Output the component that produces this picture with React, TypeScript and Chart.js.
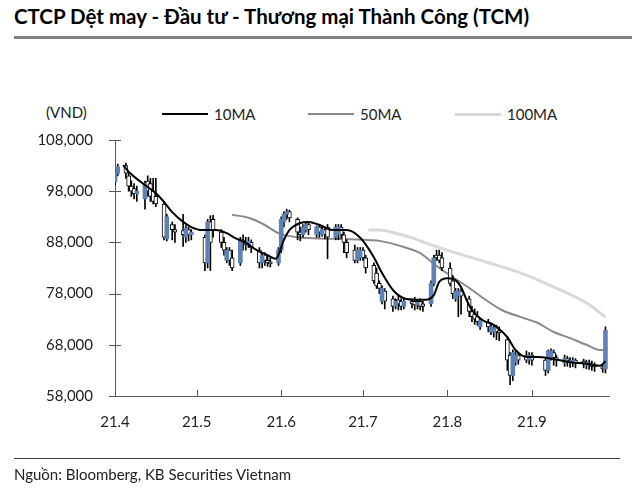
import React, { useEffect, useRef } from "react";
import { Chart, registerables } from "chart.js";

Chart.register(...registerables);

// ---- data (prices in thousand VND) ----
const monthStart: Record<number, number> = { 4: 0, 5: 30, 6: 61, 7: 91, 8: 122, 9: 153 };
const xTickDates = ["4/1", "5/1", "6/1", "7/1", "8/1", "9/1"];
const xTickLabels = ["21.4", "21.5", "21.6", "21.7", "21.8", "21.9"];
const yMin = 58;
const yMax = 108;
const yStep = 10;

const dates = [
  "4/1", "4/2", "4/5", "4/6", "4/7", "4/8", "4/9", "4/12", "4/13", "4/14", "4/15", "4/16", "4/19", "4/20", "4/22", "4/23", "4/26", "4/27", "4/28", "4/29",
  "5/4", "5/5", "5/6", "5/7", "5/10", "5/11", "5/12", "5/13", "5/14", "5/17", "5/18", "5/19", "5/20", "5/21", "5/24", "5/25", "5/26", "5/27", "5/28", "5/31",
  "6/1", "6/2", "6/3", "6/4", "6/7", "6/8", "6/9", "6/10", "6/11", "6/14", "6/15", "6/16", "6/17", "6/18", "6/21", "6/22", "6/23", "6/24", "6/25", "6/28", "6/29", "6/30",
  "7/1", "7/2", "7/5", "7/6", "7/7", "7/8", "7/9", "7/12", "7/13", "7/14", "7/15", "7/16", "7/19", "7/20", "7/21", "7/22", "7/23", "7/26", "7/27", "7/28", "7/29", "7/30",
  "8/2", "8/3", "8/4", "8/5", "8/6", "8/9", "8/10", "8/11", "8/12", "8/13", "8/16", "8/17", "8/18", "8/19", "8/20", "8/23", "8/24", "8/25", "8/26", "8/27", "8/30", "8/31",
  "9/1", "9/6", "9/7", "9/8", "9/9", "9/10", "9/13", "9/14", "9/15", "9/16", "9/17", "9/20", "9/21", "9/22", "9/23", "9/24", "9/27", "9/28",
];
const open = [
  99.8, 101.5, 103, 101, 99, 98.5, 97.5, 96.5, 100, 99.5, 98, 97, 95.5, 88.7, 91.5, 90.5, 90.3, 89, 90.5, 89.5,
  89, 84, 92, 92.5, 90, 88, 84.5, 86.5, 85, 84, 88.5, 88, 87.5, 88, 86.5, 84, 85.5, 84.5, 84, 84,
  86.5, 92, 93.5, 94, 92.5, 90, 89.5, 90.5, 91.5, 89.5, 91, 89.5, 90.5, 91, 89, 89.5, 91, 89.5, 88, 86.5, 84.5, 85,
  86.5, 85, 83.5, 82, 80, 76.5, 78.5, 77, 75.5, 76.8, 76.5, 75.5, 76.5, 76.5, 75.8, 76.5, 76, 76, 80, 85.5, 85.5, 85,
  83, 80.5, 77, 77.5, 78.5, 77, 74.5, 74, 73.5, 71.5, 72.5, 70.5, 70.5, 71.3, 70.8, 69, 66, 62, 64.5, 66, 66, 65,
  66, 65, 63, 65.5, 66.5, 65.5, 64.5, 65.3, 65, 64.5, 65, 64.8, 64, 64.5, 64.2, 64, 63.7, 63.3,
];
const high = [
  102, 103.3, 103.5, 101.5, 100, 99.5, 99, 100, 101, 100.5, 100.5, 100.5, 96, 93.5, 92, 91.5, 93.5, 91.3, 91, 90.5,
  89.5, 92.5, 93.2, 93.3, 90.5, 89, 87, 87, 86.5, 89, 89.5, 89, 89, 88.5, 87, 86, 86, 85.5, 85, 87,
  93, 94, 94.5, 94.3, 92.8, 91, 91.5, 92, 92, 91.2, 91.5, 91, 91, 91.5, 91.5, 91.5, 91.5, 90, 88.5, 87.5, 87, 87,
  87, 85.5, 84, 83, 80.5, 79.5, 79, 77.5, 77, 77.5, 77, 77, 77, 77.3, 76.8, 77, 76.5, 80.5, 85.5, 86.5, 86.5, 86,
  84, 81.5, 79, 79, 79, 77.5, 75.5, 75, 74.5, 73.2, 73, 72, 71.8, 71.8, 71.5, 69.5, 66.5, 67, 66.8, 66.5, 66.8, 66.5,
  66.5, 65.5, 67, 67.2, 67, 66, 66, 65.8, 65.5, 65.5, 65.3, 65.2, 65, 65, 64.8, 64.5, 64.2, 71.5,
];
const low = [
  99.2, 101, 100.5, 98, 97, 96.5, 96, 94.5, 97, 96, 95.5, 95, 88.5, 88.3, 88.5, 88, 87.2, 88, 88.3, 88.5,
  82.5, 83, 82.5, 89, 87, 85.5, 84, 83.5, 82.5, 83.5, 86.5, 86.5, 87, 86, 83, 83, 83.5, 83.3, 83.2, 83.5,
  86, 91, 92.5, 92, 88.5, 88.3, 89, 90, 89.5, 89, 89, 89.2, 88.7, 84.8, 88.5, 88.5, 88.8, 86, 85, 84, 84, 84.5,
  84.5, 82, 80, 79, 78, 76, 75, 74.5, 75, 74.8, 74.8, 75, 75.2, 74.8, 75, 74.8, 74.5, 75.5, 79.5, 84.5, 84, 82.5,
  79.5, 77, 76.5, 73.5, 74, 73.5, 72.5, 72, 71.8, 71, 70.5, 70, 69.5, 69, 68.8, 63, 60.2, 61, 64, 64.2, 64.5, 64.2,
  64, 62, 62.5, 65, 64, 63.8, 63.8, 63.8, 63.6, 63.7, 63.5, 63.5, 63.3, 63.2, 63, 62.8, 62.6, 62.5,
];
const close = [
  101.5, 102.8, 101.5, 99, 98, 97.5, 98, 99.5, 98, 97, 96, 95.5, 89, 93, 90.5, 90, 89.5, 90.8, 89.5, 90,
  84, 92, 88, 90.5, 88, 86.5, 86.5, 84.5, 83, 88.5, 88, 87.5, 88.2, 87, 84, 85.5, 84.5, 84, 83.8, 86.5,
  92.5, 93.5, 94, 92.8, 90, 89.5, 91, 91.5, 90.5, 91, 90, 90.5, 89.5, 89, 91, 91, 89.5, 88, 86, 84.5, 86.5, 86.5,
  85, 83, 80.5, 79.5, 79, 79, 76.5, 75.5, 76.5, 76, 75.5, 76.5, 76, 75.8, 76.3, 75.5, 75.5, 80, 85, 85, 84.5, 83,
  80, 78, 78.5, 78.5, 77.5, 74.5, 73.5, 73, 72.5, 72.8, 71.5, 71.5, 71.3, 70.5, 70.3, 65, 62, 66.5, 66, 65, 65, 66,
  65, 63, 66.8, 66.8, 65.5, 65, 65.3, 64.8, 64.5, 65, 64.5, 64.2, 64.6, 64, 63.8, 63.7, 63.3, 70.8,
];

const ma10Dates = ["4/4", "4/6", "4/11", "4/16", "4/19", "4/22", "4/26", "4/29", "5/3", "5/8", "5/12", "5/15", "5/19", "5/23", "5/27", "5/30", "6/2", "6/4", "6/8", "6/11", "6/15", "6/20", "6/25", "6/30", "7/5", "7/8", "7/12", "7/16", "7/21", "7/24", "7/27", "7/29", "8/1", "8/3", "8/6", "8/8", "8/10", "8/14", "8/18", "8/20", "8/23", "8/26", "8/30", "9/3", "9/9", "9/15", "9/21", "9/26", "9/28"];
const ma10Values = [103.1, 101.8, 99.6, 97.6, 95.9, 93.9, 92.0, 91.0, 90.4, 90.4, 89.8, 88.9, 87.9, 86.5, 85.5, 84.8, 88.5, 90.4, 91.8, 92.0, 91.4, 90.4, 90.4, 88.9, 85.1, 82.0, 78.7, 77.1, 76.8, 76.8, 77.7, 80.3, 81.0, 80.9, 79.3, 76.8, 74.8, 72.8, 71.9, 71.1, 69.5, 67.0, 65.6, 65.6, 65.2, 64.6, 64.3, 63.9, 64.8];
const ma50Dates = ["5/14", "5/20", "5/26", "5/31", "6/9", "6/21", "7/1", "7/7", "7/16", "7/22", "7/28", "8/3", "8/9", "8/15", "8/21", "8/28", "9/3", "9/9", "9/15", "9/21", "9/26", "9/28"];
const ma50Values = [93.4, 92.8, 91.4, 89.8, 88.9, 88.7, 88.5, 88.3, 87.1, 85.9, 83.4, 81.2, 79.1, 76.8, 74.8, 73.4, 72.3, 70.5, 69.3, 68.0, 67.0, 67.0];
const ma100Dates = ["7/3", "7/7", "7/13", "7/19", "7/24", "8/2", "8/15", "8/28", "9/9", "9/21", "9/28"];
const ma100Values = [90.4, 90.4, 89.8, 88.9, 87.9, 86.3, 84.2, 82.0, 79.3, 76.2, 73.4];

const upColor = "#5f82b4";
const FONT = "'Lato', 'Noto Sans', sans-serif";

function dayIndex(s: string): number {
  const [m, d] = s.split("/").map(Number);
  return monthStart[m] + d - 1;
}

const axisMarks = {
  id: "axisMarks",
  afterDraw(chart: any) {
    const { ctx, chartArea, scales } = chart;
    ctx.save();
    ctx.strokeStyle = "#595959";
    ctx.lineWidth = 1;
    scales.y.ticks.forEach((t: any) => {
      const y = Math.round(scales.y.getPixelForValue(t.value)) + 0.5;
      ctx.beginPath();
      ctx.moveTo(chartArea.left - 6, y);
      ctx.lineTo(chartArea.left + 6, y);
      ctx.stroke();
    });
    scales.x.ticks.forEach((t: any) => {
      const x = Math.round(scales.x.getPixelForValue(t.value)) + 0.5;
      ctx.beginPath();
      ctx.moveTo(x, chartArea.bottom);
      ctx.lineTo(x, chartArea.bottom - 6);
      ctx.stroke();
    });
    ctx.restore();
  },
};

export default function App() {
  const ref = useRef<HTMLCanvasElement>(null);

  useEffect(() => {
    const xs = dates.map(dayIndex);
    const wicks = xs.map((x, i) => ({ x, y: [low[i], high[i]] }));
    const upBodies = xs
      .map((x, i) => ({ x, y: [open[i], close[i]], up: close[i] >= open[i] }))
      .filter((p) => p.up)
      .map(({ x, y }) => ({ x, y }));
    const downBodies = xs
      .map((x, i) => ({ x, y: [close[i], open[i]], up: close[i] >= open[i] }))
      .filter((p) => !p.up)
      .map(({ x, y }) => ({ x, y }));
    const line = (ds: string[], vs: number[]) => ds.map((d, i) => ({ x: dayIndex(d), y: vs[i] }));

    const chart = new Chart(ref.current as HTMLCanvasElement, {
      type: "bar",
      data: {
        datasets: [
          {
            type: "line",
            label: "10MA",
            data: line(ma10Dates, ma10Values),
            borderColor: "#000000",
            borderWidth: 2,
            pointRadius: 0,
            cubicInterpolationMode: "monotone",
            order: 0,
          } as any,
          {
            label: "up",
            data: upBodies,
            backgroundColor: upColor,
            borderWidth: 0,
            barThickness: 4,
            minBarLength: 1,
            grouped: false,
            order: 1,
          } as any,
          {
            label: "down",
            data: downBodies,
            backgroundColor: "#ffffff",
            borderColor: "#000000",
            borderWidth: 1,
            borderSkipped: false,
            barThickness: 4,
            minBarLength: 2,
            grouped: false,
            order: 1,
          } as any,
          {
            label: "wick",
            data: wicks,
            backgroundColor: "#000000",
            borderWidth: 0,
            barThickness: 1,
            grouped: false,
            order: 2,
          } as any,
          {
            type: "line",
            label: "50MA",
            data: line(ma50Dates, ma50Values),
            borderColor: "#8a8a8a",
            borderWidth: 2,
            pointRadius: 0,
            cubicInterpolationMode: "monotone",
            order: 3,
          } as any,
          {
            type: "line",
            label: "100MA",
            data: line(ma100Dates, ma100Values),
            borderColor: "#d9d9d9",
            borderWidth: 3,
            pointRadius: 0,
            cubicInterpolationMode: "monotone",
            order: 4,
          } as any,
        ],
      },
      options: {
        responsive: false,
        animation: false,
        events: [],
        layout: { padding: { left: 0, right: 31, top: 140, bottom: 56 } },
        plugins: { legend: { display: false }, tooltip: { enabled: false } },
        scales: {
          x: {
            type: "linear",
            offset: false,
            min: 0,
            max: 181.3,
            grid: { display: false, drawTicks: false, tickLength: 0 },
            border: { display: true, color: "#595959", width: 1 },
            afterFit: (scale: any) => {
              scale.height = 40;
            },
            afterBuildTicks: (scale: any) => {
              scale.ticks = xTickDates.map((d) => ({ value: dayIndex(d) }));
            },
            ticks: {
              autoSkip: false,
              maxRotation: 0,
              padding: 17,
              color: "#222222",
              font: { family: FONT, size: 15 },
              callback: (_v: any, i: number) => xTickLabels[i],
            },
          },
          y: {
            min: yMin,
            max: yMax,
            grid: { display: false, drawTicks: false, tickLength: 0 },
            border: { display: true, color: "#595959", width: 1 },
            afterFit: (scale: any) => {
              scale.width = 115;
            },
            ticks: {
              stepSize: yStep,
              padding: 22,
              color: "#222222",
              font: { family: FONT, size: 15 },
              callback: (v: any) => (Number(v) * 1000).toLocaleString("en-US"),
            },
          },
        },
      },
      plugins: [axisMarks],
    });
    return () => chart.destroy();
  }, []);

  const legendItem = (left: number, color: string, w: number, label: string) => (
    <div style={{ position: "absolute", left, top: 104, height: 20, display: "flex", alignItems: "center" }}>
      <div style={{ width: 46, height: w, background: color, marginRight: 6 }} />
      <span style={{ fontSize: 15, color: "#222" }}>{label}</span>
    </div>
  );

  return (
    <div style={{ position: "absolute", left: 0, top: 0, width: 640, height: 492, background: "#fff", fontFamily: FONT, overflow: "hidden" }}>
      <div style={{ position: "absolute", left: 14, top: 4, fontSize: 20.5, fontWeight: 700, color: "#000", whiteSpace: "nowrap" }}>
        CTCP Dệt may - Đầu tư - Thương mại Thành Công (TCM)
      </div>
      <div style={{ position: "absolute", left: 14, top: 36, width: 618, height: 3, background: "#7f7f7f" }} />
      <div style={{ position: "absolute", left: 46, top: 103, fontSize: 15, color: "#222" }}>(VND)</div>
      {legendItem(162, "#000000", 2, "10MA")}
      {legendItem(308, "#8a8a8a", 2, "50MA")}
      {legendItem(455, "#d9d9d9", 3, "100MA")}
      <canvas ref={ref} width={640} height={492} style={{ position: "absolute", left: 0, top: 0 }} />
      <div style={{ position: "absolute", left: 14, top: 458, width: 606, height: 1, background: "#404040" }} />
      <div style={{ position: "absolute", left: 14, top: 465, fontSize: 15, color: "#222", whiteSpace: "nowrap" }}>
        Nguồn: Bloomberg, KB Securities Vietnam
      </div>
    </div>
  );
}
